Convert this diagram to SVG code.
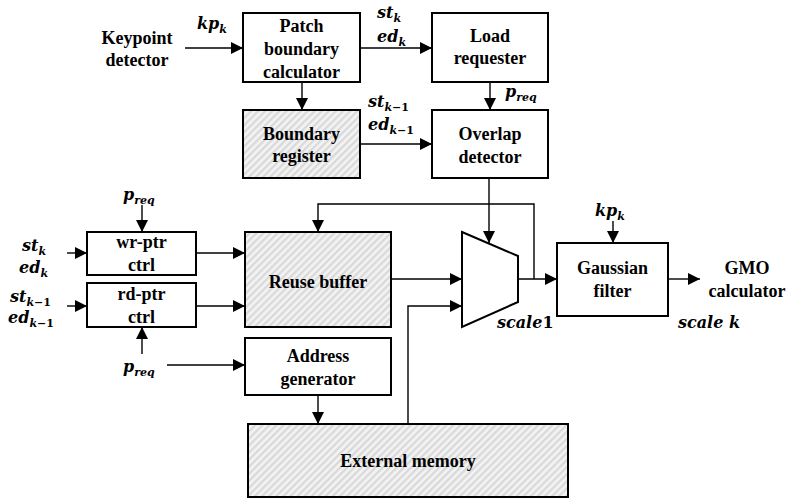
<svg xmlns="http://www.w3.org/2000/svg" width="790" height="500" viewBox="0 0 790 500">
<defs>
<pattern id="hatch" patternUnits="userSpaceOnUse" width="5" height="5" patternTransform="rotate(45)">
<rect width="5" height="5" fill="#f3f3f3"/>
<rect width="2.3" height="5" fill="#d9d9d9"/>
</pattern>
<marker id="arr" markerUnits="userSpaceOnUse" markerWidth="12" markerHeight="12" viewBox="0 0 12 12" refX="12" refY="6" orient="auto">
<path d="M0,0 L12,6 L0,12 Z" fill="#000"/>
</marker>
</defs>
<style>
.box{fill:#fff;stroke:#000;stroke-width:2}
.hb{fill:url(#hatch);stroke:#000;stroke-width:2}
.t{font-family:"Liberation Serif","Times New Roman",serif;font-weight:bold;font-size:18px;text-anchor:middle;fill:#000}
.m{font-family:"DejaVu Serif",serif;font-weight:bold;font-style:italic;font-size:16px;fill:#000}
.s{font-size:11px}
.u{font-style:normal}
.c{fill:none;stroke:#000;stroke-width:1.4}
.a{marker-end:url(#arr)}
</style>
<g id="keypoint">
<text class="t" x="137" y="44">Keypoint</text>
<text class="t" x="137" y="66">detector</text>
</g>
<g id="patch">
<rect class="box" x="243" y="13" width="117" height="69"/>
<text class="t" x="301.5" y="32">Patch</text>
<text class="t" x="301.5" y="55">boundary</text>
<text class="t" x="301.5" y="78">calculator</text>
</g>
<g id="load">
<rect class="box" x="432" y="13" width="116" height="69"/>
<text class="t" x="490" y="42">Load</text>
<text class="t" x="490" y="64">requester</text>
</g>
<g id="breg">
<rect class="hb" x="243" y="110" width="117" height="68"/>
<text class="t" x="301.5" y="140">Boundary</text>
<text class="t" x="301.5" y="162">register</text>
</g>
<g id="overlap">
<rect class="box" x="432" y="110" width="116" height="68"/>
<text class="t" x="490" y="140">Overlap</text>
<text class="t" x="490" y="163">detector</text>
</g>
<g id="wrptr">
<rect class="box" x="87" y="232" width="109" height="43"/>
<text class="t" x="141.5" y="248">wr-ptr</text>
<text class="t" x="141.5" y="271">ctrl</text>
</g>
<g id="rdptr">
<rect class="box" x="87" y="283" width="109" height="44"/>
<text class="t" x="141.5" y="300">rd-ptr</text>
<text class="t" x="141.5" y="323">ctrl</text>
</g>
<g id="reuse">
<rect class="hb" x="245" y="232" width="146" height="95"/>
<text class="t" x="318" y="288">Reuse buffer</text>
</g>
<g id="addr">
<rect class="box" x="245" y="338" width="146" height="57"/>
<text class="t" x="318" y="362">Address</text>
<text class="t" x="318" y="385">generator</text>
</g>
<g id="extmem">
<rect class="hb" x="248" y="424" width="320" height="73"/>
<text class="t" x="408" y="467">External memory</text>
</g>
<g id="mux">
<path d="M462,232 L518,256 L518,302 L462,327 Z" fill="#fff" stroke="#000" stroke-width="2"/>
</g>
<g id="gaussian">
<rect class="box" x="557" y="243" width="111" height="73"/>
<text class="t" x="612.5" y="274">Gaussian</text>
<text class="t" x="612.5" y="297">filter</text>
</g>
<g id="gmo">
<text class="t" x="747" y="274">GMO</text>
<text class="t" x="747" y="297">calculator</text>
</g>
<g id="connectors">
<line class="c a" x1="185" y1="48" x2="243" y2="48"/>
<line class="c a" x1="360" y1="48" x2="432" y2="48"/>
<line class="c a" x1="302" y1="82" x2="302" y2="110"/>
<line class="c a" x1="360" y1="144" x2="432" y2="144"/>
<line class="c a" x1="490" y1="82" x2="490" y2="110"/>
<line class="c a" x1="489" y1="178" x2="489" y2="243"/>
<line class="c a" x1="142" y1="205" x2="142" y2="232"/>
<line class="c a" x1="67" y1="253" x2="87" y2="253"/>
<line class="c a" x1="196" y1="253" x2="245" y2="253"/>
<line class="c a" x1="67" y1="306" x2="87" y2="306"/>
<line class="c a" x1="196" y1="306" x2="245" y2="306"/>
<line class="c a" x1="142" y1="354" x2="142" y2="327"/>
<line class="c a" x1="167" y1="365" x2="245" y2="365"/>
<line class="c a" x1="318" y1="395" x2="318" y2="424"/>
<line class="c a" x1="391" y1="279" x2="462" y2="279"/>
<polyline class="c a" points="408,424 408,306 462,306"/>
<line class="c a" x1="518" y1="279" x2="557" y2="279"/>
<polyline class="c a" points="534,279 534,204 318,204 318,232"/>
<line class="c a" x1="613" y1="221" x2="613" y2="243"/>
<line class="c a" x1="668" y1="279" x2="700" y2="279"/>
</g>
<g id="labels">
<text class="m" x="197" y="29">kp<tspan class="s" dy="4">k</tspan></text>
<text class="m" x="377" y="18">st<tspan class="s" dy="4">k</tspan></text>
<text class="m" x="377" y="42">ed<tspan class="s" dy="4">k</tspan></text>
<text class="m" x="368" y="107">st<tspan class="s" dy="4">k</tspan><tspan class="s u">−1</tspan></text>
<text class="m" x="368" y="130">ed<tspan class="s" dy="4">k</tspan><tspan class="s u">−1</tspan></text>
<text class="m" x="505" y="97">p<tspan class="s" dy="4">req</tspan></text>
<text class="m" x="123" y="200">p<tspan class="s" dy="4">req</tspan></text>
<text class="m" x="123" y="372">p<tspan class="s" dy="4">req</tspan></text>
<text class="m" x="22" y="251">st<tspan class="s" dy="4">k</tspan></text>
<text class="m" x="19" y="273">ed<tspan class="s" dy="4">k</tspan></text>
<text class="m" x="10" y="302">st<tspan class="s" dy="4">k</tspan><tspan class="s u">−1</tspan></text>
<text class="m" x="8" y="323">ed<tspan class="s" dy="4">k</tspan><tspan class="s u">−1</tspan></text>
<text class="m" x="595" y="216">kp<tspan class="s" dy="4">k</tspan></text>
<text class="m" x="497" y="328">scale<tspan class="u">1</tspan></text>
<text class="m" x="678" y="328">scale k</text>
</g>
</svg>
